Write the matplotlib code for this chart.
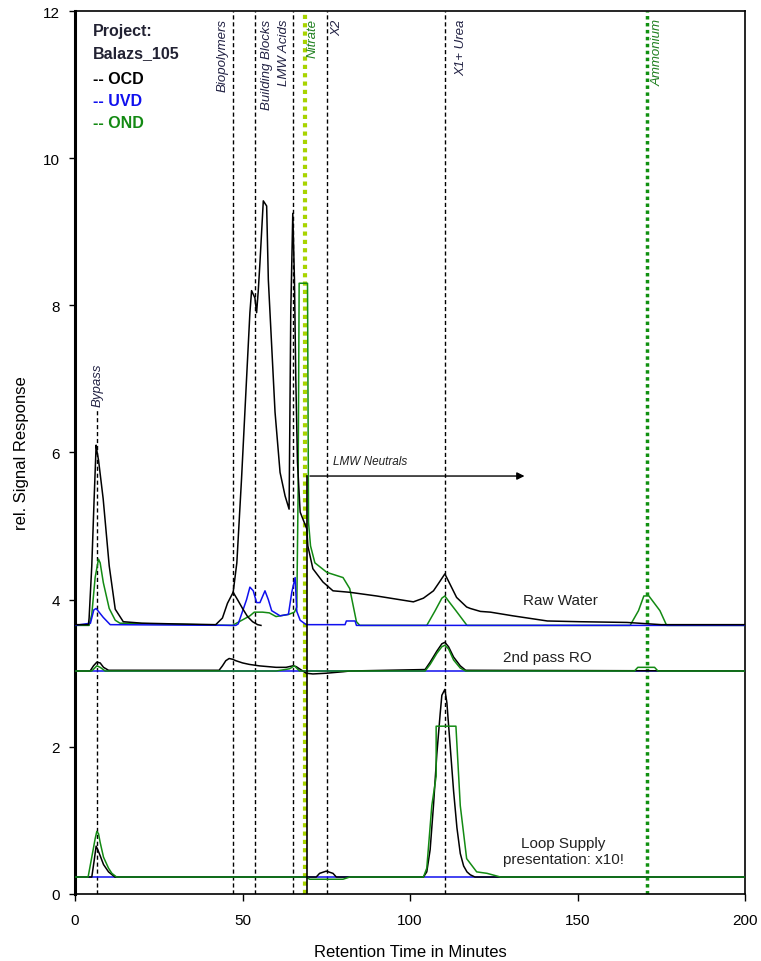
import matplotlib
matplotlib.use("Agg")
import matplotlib.pyplot as plt

plt.rcParams['font.family'] = ['Liberation Sans', 'DejaVu Sans']

# ---------------- data (retention time in minutes, relative signal) ----------------
# Raw Water
raw_ocd_x = [0, 4, 4.2, 5.0, 5.7, 6.3, 6.6, 7.0, 8.4, 10.2, 12, 14.4, 20, 30, 42, 44, 45.5, 47.2,
             48.3, 49.7, 51.2, 52.2, 52.7, 53.7, 54.2, 54.7, 55.2, 56.2, 57.2, 57.7, 58.7, 59.7,
             61.2, 62.7, 63.9, 64.4, 65.0, 65.5, 65.9, 66.4, 67.2, 69.2, 69.5, 71, 74, 77, 82, 90,
             101, 104, 107, 108.5, 110.4, 111.5, 113.9, 116.9, 118, 121, 124, 130.7, 141, 150.7,
             164.8, 175, 200]
raw_ocd_y = [3.66, 3.66, 3.75, 4.46, 5.37, 6.1, 6.0, 5.9, 5.37, 4.46, 3.87, 3.7, 3.68, 3.67, 3.66,
             3.75, 3.95, 4.1, 4.5, 5.64, 7.0, 7.9, 8.2, 8.1, 7.9, 8.2, 8.58, 9.42, 9.35, 8.35, 7.45,
             6.55, 5.73, 5.41, 5.23, 7.9, 9.25, 8.35, 7.0, 5.87, 5.19, 4.96, 4.73, 4.42, 4.24, 4.12,
             4.1, 4.05, 3.97, 4.02, 4.12, 4.22, 4.35, 4.25, 4.03, 3.9, 3.88, 3.84, 3.83, 3.78, 3.71,
             3.7, 3.69, 3.66, 3.66]
# secondary descending OCD branch of the biopolymer peak
raw_ocd2_x = [47.2, 48.5, 50, 51.5, 53, 54.5, 55.5]
raw_ocd2_y = [4.1, 4.0, 3.88, 3.77, 3.7, 3.66, 3.65]

raw_uvd_x = [0, 4.6, 5.6, 6.3, 7.0, 8.4, 10.5, 48, 48.7, 51.2, 52.2, 53.2, 54.2, 55.2, 56.7, 57.7,
             58.7, 61.2, 63.7, 64.7, 65.7, 66.2, 67.2, 69, 80.6, 81, 83.6, 84, 200]
raw_uvd_y = [3.65, 3.68, 3.86, 3.88, 3.84, 3.76, 3.66, 3.65, 3.67, 4.0, 4.17, 4.12, 3.96, 3.96,
             4.12, 4.0, 3.85, 3.78, 3.8, 4.1, 4.3, 3.84, 3.72, 3.66, 3.66, 3.71, 3.71, 3.65, 3.65]

raw_ond_x = [0, 4.2, 5.0, 6.0, 7.0, 7.5, 8.45, 10.2, 12, 13.4, 47, 49, 52.2, 53.5, 56, 58, 60, 63.8,
             65.5, 66.2, 66.6, 66.9, 69.4, 69.7, 70.3, 71.6, 75.2, 80, 82, 84, 85, 105, 107.5,
             109.5, 110.4, 111.5, 113.7, 117, 165.7, 168.2, 169.8, 171.3, 174.6, 176.6, 200]
raw_ond_y = [3.65, 3.65, 3.8, 4.3, 4.55, 4.5, 4.23, 3.88, 3.72, 3.68, 3.65, 3.7, 3.78, 3.83, 3.83,
             3.82, 3.77, 3.8, 3.83, 3.9, 5.5, 8.3, 8.3, 5.05, 4.73, 4.5, 4.37, 4.3, 4.15, 3.7, 3.65,
             3.65, 3.85, 4.02, 4.05, 3.98, 3.85, 3.65, 3.65, 3.85, 4.05, 4.05, 3.85, 3.65, 3.65]

# 2nd pass RO
ro_ocd_x = [0, 4.5, 5.5, 6.5, 7.5, 8.5, 10, 43, 44, 45, 46, 47, 48, 50, 52, 55, 60, 63, 65, 66, 67,
            68, 69, 71, 75, 80, 82, 104.5, 106, 108, 109.5, 110.4, 111.5, 113, 115, 116.6, 200]
ro_ocd_y = [3.03, 3.03, 3.1, 3.15, 3.14, 3.08, 3.04, 3.04, 3.1, 3.17, 3.2, 3.19, 3.17, 3.14, 3.12,
            3.1, 3.08, 3.08, 3.1, 3.09, 3.06, 3.03, 3.0, 2.99, 3.0, 3.02, 3.03, 3.05, 3.15, 3.3,
            3.4, 3.42, 3.36, 3.22, 3.1, 3.04, 3.03]
ro_uvd_x = [0, 200]
ro_uvd_y = [3.03, 3.03]
ro_ond_x = [0, 5, 6.5, 7.5, 9, 60, 64, 65.5, 67, 104.5, 106, 108, 109.5, 110.4, 111.5, 113, 115,
            116.6, 167, 168, 173, 174, 200]
ro_ond_y = [3.03, 3.03, 3.1, 3.08, 3.03, 3.03, 3.06, 3.1, 3.03, 3.03, 3.12, 3.27, 3.36, 3.38, 3.33,
            3.18, 3.07, 3.03, 3.03, 3.08, 3.08, 3.03, 3.03]

# Loop Supply (x10)
loop_ocd_x = [0, 5, 5.7, 6.3, 6.8, 7.5, 8.5, 10, 11.9, 72, 73, 75, 77, 78, 104, 105, 106, 107, 108,
              109, 109.5, 110.4, 111, 112, 113, 114, 115, 116, 117, 118, 119.4, 200]
loop_ocd_y = [0.23, 0.23, 0.45, 0.65, 0.6, 0.52, 0.4, 0.3, 0.23, 0.23, 0.28, 0.31, 0.28, 0.23, 0.23,
              0.3, 0.6, 1.2, 1.9, 2.45, 2.7, 2.78, 2.6, 2.0, 1.4, 0.9, 0.55, 0.38, 0.3, 0.26, 0.23,
              0.23]
loop_uvd_x = [0, 200]
loop_uvd_y = [0.23, 0.23]
loop_ond_x = [0, 3.9, 5, 6, 6.5, 7, 7.5, 8.5, 10, 11, 12.4, 69, 70, 80, 82, 104, 105, 106.5, 107.8,
              107.8, 113.7, 115, 116.9, 119.9, 123, 127, 200]
loop_ond_y = [0.23, 0.23, 0.5, 0.75, 0.85, 0.82, 0.7, 0.5, 0.35, 0.28, 0.23, 0.23, 0.2, 0.2, 0.23,
              0.23, 0.35, 1.2, 1.6, 2.28, 2.28, 1.2, 0.48, 0.3, 0.28, 0.23, 0.23]

# Marker lines (retention times) and their labels
marker_names = ["Biopolymers", "Building Blocks", "LMW Acids", "Nitrate", "X2", "X1+ Urea", "Ammonium"]
marker_times = [47.3, 53.7, 65.2, 68.5, 75.3, 110.4, 170.6]
bypass_time = 6.6

# ---------------- plot ----------------
fig = plt.figure(figsize=(7.61, 9.62), dpi=100)
ax = fig.add_axes([0.0986, 0.0697, 0.8804, 0.9178])
ax.set_xlim(0, 200)
ax.set_ylim(0, 12)

black_dash = dict(color='black', lw=1.0, linestyle=(0, (3, 2)), zorder=1)
for name, t in zip(marker_names, marker_times):
    if name == "Nitrate":
        ax.axvline(t, color='#a8d400', lw=3, linestyle=(0, (1, 1)), zorder=1)
    elif name == "Ammonium":
        ax.axvline(t, color='#109010', lw=2.5, linestyle=(0, (1, 1)), zorder=1)
    else:
        ax.axvline(t, **black_dash)
ax.plot([bypass_time, bypass_time], [0, 6.6], **black_dash)

# labels of marker lines
label_x = [43.9, 57.2, 62.4, 71.0, 78.4, 115.4, 173.9]
label_col = ['#222244', '#222244', '#222244', '#208020', '#222244', '#222244', '#208020']
for name, lx, c in zip(marker_names, label_x, label_col):
    ax.text(lx, 11.9, name, rotation=90, ha='center', va='top', fontsize=9.5,
            style='italic', color=c)
ax.text(bypass_time, 7.22, "Bypass", rotation=90, ha='center', va='top', fontsize=9.5,
        style='italic', color='#222244')

# curves
lw = 1.1
ax.plot(raw_ond_x, raw_ond_y, color='#138a13', lw=lw, zorder=3)
ax.plot(raw_uvd_x, raw_uvd_y, color='#1010ee', lw=lw, zorder=3)
ax.plot(raw_ocd_x, raw_ocd_y, color='black', lw=lw, zorder=4)
ax.plot(raw_ocd2_x, raw_ocd2_y, color='black', lw=lw, zorder=4)

ax.plot(ro_uvd_x, ro_uvd_y, color='#1010ee', lw=lw, zorder=3)
ax.plot(ro_ocd_x, ro_ocd_y, color='black', lw=lw, zorder=4)
ax.plot(ro_ond_x, ro_ond_y, color='#138a13', lw=lw, zorder=4)

ax.plot(loop_uvd_x, loop_uvd_y, color='#1010ee', lw=lw, zorder=3)
ax.plot(loop_ocd_x, loop_ocd_y, color='black', lw=lw, zorder=4)
ax.plot(loop_ond_x, loop_ond_y, color='#138a13', lw=lw, zorder=4)

# LMW neutrals arrow
ax.plot([69.3, 69.3], [0, 5.68], color='black', lw=1.2, zorder=5)
ax.annotate("", xy=(135, 5.68), xytext=(69.3, 5.68),
            arrowprops=dict(arrowstyle='-|>', color='black', lw=1.0, mutation_scale=11), zorder=5)
ax.text(77, 5.8, "LMW Neutrals", fontsize=8.5, style='italic', ha='left', va='bottom',
        color='#222222')

# sample labels
ax.text(145, 4.0, "Raw Water", fontsize=11, ha='center', va='center', color='#222222')
ax.text(141, 3.22, "2nd pass RO", fontsize=11, ha='center', va='center', color='#222222')
ax.text(145.7, 0.58, "Loop Supply\npresentation: x10!", fontsize=11, ha='center', va='center',
        color='#222222', linespacing=1.15)

# legend text
leg_kw = dict(fontsize=11.5, fontweight='bold', va='center')
ax.text(5.4, 11.73, "Project:", color='#222233', **leg_kw)
ax.text(5.4, 11.43, "Balazs_105", color='#222233', **leg_kw)
ax.text(5.4, 11.08, "-- OCD", color='black', **leg_kw)
ax.text(5.4, 10.78, "-- UVD", color='#1010ee', **leg_kw)
ax.text(5.4, 10.48, "-- OND", color='#138a13', **leg_kw)

ax.set_xticks([0, 50, 100, 150, 200])
ax.set_yticks([0, 2, 4, 6, 8, 10, 12])
ax.tick_params(axis='x', direction='out', length=5, width=1, labelsize=11, pad=9)
ax.tick_params(axis='y', direction='out', length=4, width=1, labelsize=11, pad=7)
for s in ax.spines.values():
    s.set_linewidth(1.2)
ax.spines['left'].set_linewidth(2.2)
ax.set_xlabel("Retention Time in Minutes", fontsize=12, labelpad=12)
ax.set_ylabel("rel. Signal Response", fontsize=12, labelpad=10)

fig.savefig("out.png", dpi=100)
